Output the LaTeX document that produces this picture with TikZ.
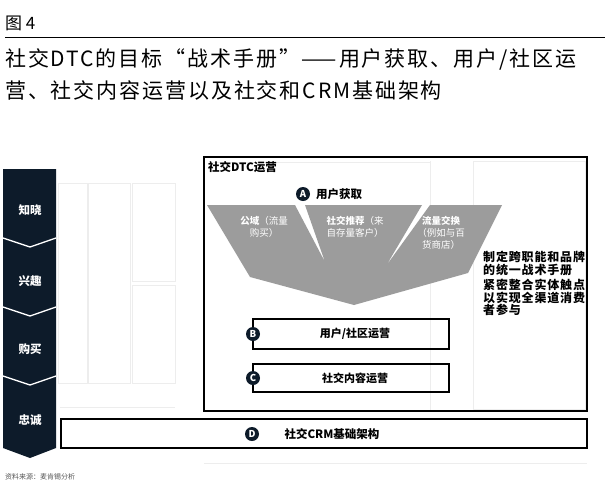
\documentclass[tikz,border=0pt]{standalone}
\usepackage{fontspec}
\setmainfont{Noto Sans CJK SC}
\definecolor{navy}{HTML}{0D1B2A}
\definecolor{funnelgray}{HTML}{9C9C9C}
\definecolor{faint}{HTML}{EDEDED}
\definecolor{srcgray}{HTML}{555555}
\tikzset{
  badge/.style={circle, fill=navy, text=white, font=\bfseries\fontsize{9.5}{9.5}\selectfont, inner sep=0pt, minimum size=14pt},
  stagelabel/.style={text=white, font=\bfseries\fontsize{11.5}{11.5}\selectfont, inner sep=0pt},
  boxlabel/.style={font=\bfseries\fontsize{11}{11}\selectfont, inner sep=0pt},
  funneltext/.style={text=white, align=center, font=\fontsize{9.5}{12}\selectfont, inner sep=0pt},
  opbox/.style={draw=black, line width=1.1pt},
  faintline/.style={draw=faint, line width=0.8pt},
  sidetext/.style={align=left, font=\bfseries\fontsize{12}{12.5}\selectfont\addfontfeature{LetterSpace=7}, inner sep=0pt, anchor=north west}
}
\begin{document}
\begin{tikzpicture}[x=1pt,y=-1pt]
\useasboundingbox (0,0) rectangle (608,488);
\fill[white] (0,0) rectangle (608,488);

% header
\node[anchor=west, inner sep=0pt, font=\fontsize{17}{17}\selectfont] (fig) at (5,23) {图 4};
\coordinate (hl) at (5,37);
\coordinate (hr) at (605,37);
\draw[line width=0.9pt] (hl) -- (hr);
\node[anchor=west, inner sep=0pt, font=\fontsize{21}{21}\selectfont\addfontfeature{LetterSpace=9}] (title1) at (5,59) {社交DTC的目标“战术手册”——用户获取、用户/社区运};
\node[anchor=west, inner sep=0pt, font=\fontsize{21}{21}\selectfont\addfontfeature{LetterSpace=9}] (title2) at (5,90) {营、社交内容运营以及社交和CRM基础架构};

% faint background
\draw[faintline] (58,183) rectangle (87,383);
\draw[faintline] (88,183) rectangle (130,383);
\draw[faintline] (132,183) rectangle (175,281);
\draw[faintline] (132,285) rectangle (175,383);
\draw[faintline] (60,407) -- (175,407);
\draw[faintline] (430,161) -- (430,411);
\draw[faintline] (473,161) rectangle (585,409);
\draw[faintline] (210,162) -- (430,162);
\draw[faintline] (204,463) -- (587,463);

% left stage column
\fill[navy] (3,169) -- (56,169) -- (56,448) -- (30,458) -- (3,448) -- cycle;
\foreach \yy in {238,307,376} {
  \draw[white, line width=1.3pt] (3,\yy) -- (30,\yy+9) -- (56,\yy);
}
\node[stagelabel] (s1) at (30,210) {知晓};
\node[stagelabel] (s2) at (30,281) {兴趣};
\node[stagelabel] (s3) at (30,349) {购买};
\node[stagelabel] (s4) at (30,420) {忠诚};

% main DTC box
\draw[line width=2.4pt] (204,157) rectangle (587,411);
\node[anchor=west, inner sep=0pt, font=\bfseries\fontsize{11.5}{11.5}\selectfont] (dtc) at (208,167) {社交DTC运营};

% funnel
\fill[funnelgray] (207,205) -- (295,205) -- (325,262) -- (305,205) -- (422,205) -- (386,266) -- (430,205) -- (502,205) -- (468,273) -- (354,305) -- (250,277) -- cycle;

\node[badge] (ba) at (303,194) {A};
\node[anchor=west, boxlabel, font=\bfseries\fontsize{11.5}{11.5}\selectfont] (acq) at (316,194) {用户获取};

\node[funneltext] (f1) at (264,227) {\textbf{公域}（流量\\购买）};
\node[funneltext] (f2) at (355,227) {\textbf{社交推荐}（来\\自存量客户）};
\node[funneltext] (f3) at (441,233) {\textbf{流量交换}\\（例如与百\\货商店）};

% side texts
\node[sidetext] (p1) at (483,251) {制定跨职能和品牌\\的统一战术手册};
\node[sidetext] (p2) at (483,279) {紧密整合实体触点\\以实现全渠道消费\\者参与};

% B and C boxes
\draw[opbox] (253,319) rectangle (449,349);
\node[badge] (bb) at (253,334) {B};
\node[boxlabel] (bt) at (355,334) {用户/社区运营};

\draw[opbox] (253,364) rectangle (449,392);
\node[badge] (bc) at (253,378) {C};
\node[boxlabel] (ct) at (355,378) {社交内容运营};

% D box
\draw[opbox] (61,419) rectangle (587,448);
\node[badge] (bd) at (252,434) {D};
\node[boxlabel, font=\bfseries\fontsize{11.5}{11.5}\selectfont] (dt) at (332,434) {社交CRM基础架构};

% source
\node[anchor=west, inner sep=0pt, text=srcgray, font=\fontsize{7}{7}\selectfont] (src) at (5,477) {资料来源：麦肯锡分析};
\end{tikzpicture}
\end{document}
